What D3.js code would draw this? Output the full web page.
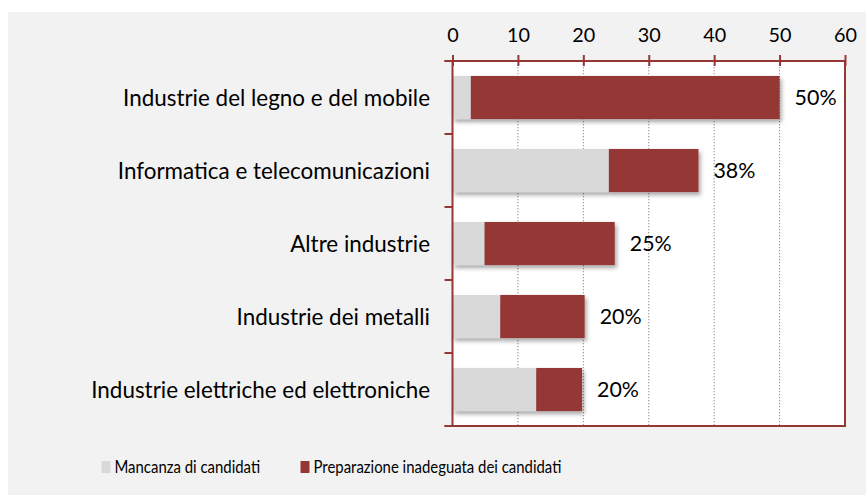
<!DOCTYPE html>
<html>
<head>
<meta charset="utf-8">
<script src="https://cdn.jsdelivr.net/npm/d3@7"></script>
<style>
  html, body { margin: 0; padding: 0; background: #ffffff; }
  svg { display: block; }
  text { font-family: Lato, "Open Sans", sans-serif; fill: #000; }
</style>
</head>
<body>
<svg id="chart" width="866" height="495"></svg>
<script>
const categories = [
  "Industrie del legno e del mobile",
  "Informatica e telecomunicazioni",
  "Altre industrie",
  "Industrie dei metalli",
  "Industrie elettriche ed elettroniche"
];
const mancanza = [2.8, 23.9, 4.9, 7.3, 12.8];
const preparazione = [47.2, 13.7, 19.9, 12.9, 7.0];
const totalLabels = ["50%", "38%", "25%", "20%", "20%"];
const tickValues = [0, 10, 20, 30, 40, 50, 60];
const seriesNames = ["Mancanza di candidati", "Preparazione inadeguata dei candidati"];
const colors = ["#d9d9d9", "#953735"];
const axisColor = "#953735";

(function () {
const svg = d3.select("#chart");

// fit font sizes so the fallback font occupies the same widths as the original
function measure(str, size) {
  const p = svg.append("text").attr("font-size", size).text(str);
  const w = p.node().getComputedTextLength();
  p.remove();
  return w;
}
function fitSize(str, target) { return 20 * target / measure(str, 20); }
const fsCat = fitSize(categories[4], 339);
const fsTick = fitSize("60", 23);
const fsLab = fitSize("50%", 42);
const fsLegend = fitSize(seriesNames[1], 248) * 1.1;

const pL = 452.5, pR = 845, pT = 61, pB = 426;

svg.append("rect").attr("x", 8).attr("y", 12).attr("width", 858).attr("height", 483)
  .attr("fill", "#f2f2f2");

const x = d3.scaleLinear().domain([0, 60]).range([pL, pR]);
const y = d3.scaleBand().domain(categories).range([pT, pB])
  .paddingInner(0.41).paddingOuter(0.205);
const step = y.step();

// plot area
svg.append("rect").attr("x", pL).attr("y", pT).attr("width", pR - pL)
  .attr("height", pB - pT).attr("fill", "#ffffff");

// gridlines
svg.append("g").selectAll("line").data(tickValues.filter(v => v > 0 && v < 60)).join("line")
  .attr("x1", d => x(d)).attr("x2", d => x(d))
  .attr("y1", pT).attr("y2", pB)
  .attr("stroke", "#8c8c8c").attr("stroke-width", 1)
  .attr("stroke-dasharray", "1.3,1.7");

// shadow filter
const defs = svg.append("defs");
const f = defs.append("filter").attr("id", "shadow")
  .attr("x", "-5%").attr("y", "-20%").attr("width", "115%").attr("height", "160%");
f.append("feDropShadow").attr("dx", 2).attr("dy", 3).attr("stdDeviation", 2)
  .attr("flood-color", "#000").attr("flood-opacity", 0.35);

// bars
const rows = categories.map((c, i) => ({ c, a: mancanza[i], b: preparazione[i], lab: totalLabels[i] }));
const g = svg.append("g").selectAll("g").data(rows).join("g").attr("filter", "url(#shadow)");
g.append("rect")
  .attr("x", d => x(0)).attr("y", d => y(d.c))
  .attr("width", d => x(d.a) - x(0)).attr("height", y.bandwidth())
  .attr("fill", colors[0]);
g.append("rect")
  .attr("x", d => x(d.a)).attr("y", d => y(d.c))
  .attr("width", d => x(d.a + d.b) - x(d.a)).attr("height", y.bandwidth())
  .attr("fill", colors[1]);

// data labels
svg.append("g").selectAll("text").data(rows).join("text")
  .attr("x", d => x(d.a + d.b) + 15)
  .attr("y", d => y(d.c) + y.bandwidth() / 2)
  .attr("dy", "0.37em")
  .attr("font-size", fsLab)
  .text(d => d.lab);

// borders (left, right, bottom)
svg.append("line").attr("x1", pL).attr("x2", pL).attr("y1", pT).attr("y2", pB)
  .attr("stroke", axisColor).attr("stroke-width", 2);
svg.append("line").attr("x1", pR).attr("x2", pR).attr("y1", pT).attr("y2", pB + 1)
  .attr("stroke", axisColor).attr("stroke-width", 2);
svg.append("line").attr("x1", pL - 8).attr("x2", pR + 1).attr("y1", pB).attr("y2", pB)
  .attr("stroke", axisColor).attr("stroke-width", 2);

// category ticks on left
const bounds = d3.range(categories.length + 1).map(i => pT + i * step);
svg.append("g").selectAll("line").data(bounds).join("line")
  .attr("x1", pL - 8).attr("x2", pL).attr("y1", d => d).attr("y2", d => d)
  .attr("stroke", axisColor).attr("stroke-width", 2);

// category labels
svg.append("g").selectAll("text").data(categories).join("text")
  .attr("x", 430).attr("y", d => y(d) + y.bandwidth() / 2)
  .attr("dy", "0.37em").attr("text-anchor", "end")
  .attr("font-size", fsCat)
  .text(d => d);

// top value axis
const ax = svg.append("g").attr("transform", `translate(0,${pT})`)
  .call(d3.axisTop(x).tickValues(tickValues).tickSizeOuter(0).tickSizeInner(6).tickFormat(d3.format("d")));
ax.select(".domain").remove();
ax.selectAll(".tick line").attr("y1", 5).attr("y2", -6)
  .attr("stroke", axisColor).attr("stroke-width", 2);
ax.selectAll(".tick text").attr("y", -19.5).attr("dy", 0)
  .attr("font-size", fsTick).attr("font-family", "Lato, 'Open Sans', sans-serif").attr("fill", "#000");
svg.append("line").attr("x1", pL - 8).attr("x2", pR + 1).attr("y1", pT).attr("y2", pT)
  .attr("stroke", axisColor).attr("stroke-width", 2);

// legend
const legX = [101.5, 300.5];
const leg = svg.append("g").selectAll("g").data(seriesNames).join("g")
  .attr("transform", (d, i) => `translate(${legX[i]},461)`);
leg.append("rect").attr("width", 9).attr("height", 12).attr("fill", (d, i) => colors[i]);
leg.append("text").attr("x", 13).attr("y", 12).attr("font-size", fsLegend)
  .attr("textLength", d => measure(d, fsLegend) / 1.1)
  .attr("lengthAdjust", "spacingAndGlyphs")
  .text(d => d);
})();
</script>
</body>
</html>
